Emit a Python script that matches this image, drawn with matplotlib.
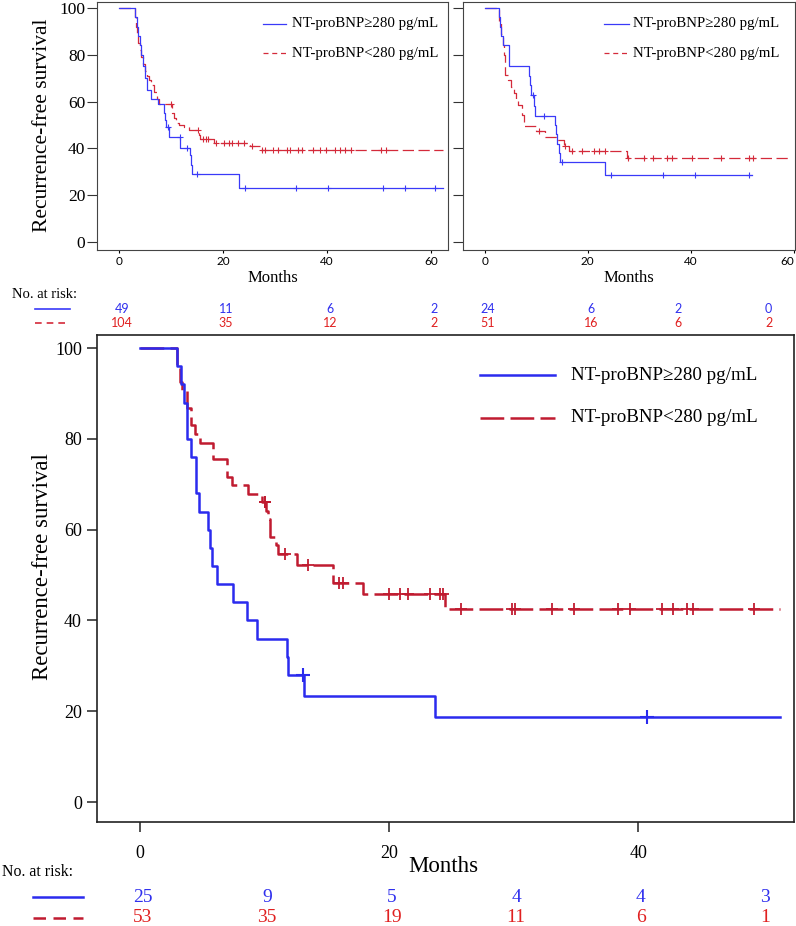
import numpy as np
import matplotlib
matplotlib.use("Agg")
import matplotlib.pyplot as plt
from matplotlib import transforms

# ---- data ----
# top-left panel
tl_blue_t = [0, 3.1, 3.4, 3.7, 4.0, 4.3, 4.7, 5.0, 5.5, 6.2, 7.5, 8.6, 8.8, 9.0, 9.7, 11.8, 13.6, 13.9, 14.1, 23.1]
tl_blue_s = [100, 96, 92, 88, 84, 80, 75, 70, 65, 61, 59, 55, 52, 49, 45, 40, 37, 33, 29, 23]
tl_blue_cens = [9.4, 11.7, 13.2, 15.1, 24.3, 34.0, 40.3, 50.8, 55.0, 60.8]
tl_blue_end = 62.3
tl_red_t = [0, 3.1, 3.3, 3.5, 3.7, 4.0, 4.3, 4.6, 5.0, 5.4, 5.8, 6.2, 6.8, 7.3, 7.8, 10.3, 10.6, 11.0,
            11.6, 12.5, 13.5, 15.4, 15.7, 18.3, 25.3, 27.2]
tl_red_s = [100, 96, 92, 88, 85, 82, 79, 76, 73, 71, 69, 67, 64, 61, 59, 55, 53, 51,
            50, 49, 48, 45.5, 44, 42.5, 41, 39.1]
tl_red_cens = [10.0, 15.3, 16.2, 16.8, 17.2, 18.6, 20.2, 21.1, 21.8, 22.9, 24.0, 25.7, 27.5, 28.2,
               29.7, 30.7, 32.3, 32.9, 34.5, 35.2, 37.4, 38.7, 39.9, 41.5, 42.5, 43.4, 44.7, 50.4, 51.4]
tl_red_end = 62.3

# top-right panel
tr_blue_t = [0, 2.8, 3.0, 3.2, 3.6, 4.8, 8.6, 8.8, 9.0, 9.55, 9.8, 13.6, 13.8, 14.1, 14.4, 14.6, 23.4]
tr_blue_s = [100, 96, 92, 88, 84, 75, 71, 67, 63, 58, 54, 50, 46, 42, 38, 34, 28.5]
tr_blue_cens = [9.45, 11.6, 15.0, 24.5, 34.5, 40.8, 51.3]
tr_blue_end = 51.9
tr_red_t = [0, 2.8, 3.1, 3.5, 3.7, 4.0, 4.6, 5.1, 5.7, 6.0, 6.4, 7.3, 7.7, 10.0, 11.8, 13.8, 15.4, 16.3, 27.6]
tr_red_s = [100, 94, 89, 84, 80, 71.4, 69.3, 66.4, 63.6, 60.8, 58.6, 54.3, 49.4, 47.5, 45, 43.4, 40.8, 39, 35.8]
tr_red_cens = [10.5, 15.6, 17.0, 18.8, 21.2, 22.1, 23.3, 27.9, 30.9, 32.7, 35.3, 36.4, 40.3, 45.9, 51.3, 52.0]
tr_red_end = 59.1

# bottom panel
b_blue_t = [0, 2.95, 3.3, 3.5, 3.75, 4.1, 4.5, 4.75, 5.5, 5.6, 5.75, 6.2, 7.5, 8.6, 9.4, 11.8, 11.9, 13.15, 23.7]
b_blue_s = [100, 96, 92, 88, 80, 76, 68, 64, 60, 56, 52, 48, 44, 40, 36, 32, 28, 23.3, 18.7]
b_blue_cens = [13.05, 40.7]
b_blue_end = 51.4
b_red_t = [0, 2.95, 3.2, 3.35, 3.75, 4.1, 4.4, 4.8, 5.85, 6.95, 7.35, 8.7, 9.8, 10.15, 10.3, 10.45,
           10.9, 11.05, 12.6, 15.5, 17.9, 24.5]
b_red_s = [100, 96.2, 92.5, 90.6, 86.8, 83.0, 81.1, 79.2, 75.5, 71.7, 69.8, 67.9, 66.0, 64.2, 62.3, 58.5,
           56.6, 54.7, 52.3, 48.2, 45.8, 42.6]
b_red_cens = [10.0, 10.05, 11.65, 13.5, 16.0, 16.3, 19.95, 20.9, 21.55, 23.3, 24.1, 24.3, 25.8, 29.85,
              30.1, 33.1, 34.85, 38.4, 39.3, 41.9, 42.8, 43.9, 44.4, 49.3]
b_red_end = 51.4

# numbers at risk
tl_risk_blue = [49, 11, 6, 2]
tl_risk_red = [104, 35, 12, 2]
tr_risk_blue = [24, 6, 2, 0]
tr_risk_red = [51, 16, 6, 2]
b_risk_blue = [25, 9, 5, 4, 4, 3]
b_risk_red = [53, 35, 19, 11, 6, 1]

legend_labels = ["NT-proBNP\u2265280 pg/mL", "NT-proBNP<280 pg/mL"]

# ---- style ----
SERIF = "Liberation Serif"
SANS = "Lato"
blue_top, red_top = "#3a3af8", "#d42a3a"
blue_bot, red_bot = "#2b2bee", "#c01b30"
risk_blue, risk_red = "#3030ee", "#e02020"

W, H = 796, 926
fig = plt.figure(figsize=(W / 100, H / 100), dpi=100)


def add_axes_px(x0, y0, x1, y1):
    return fig.add_axes([x0 / W, 1 - y1 / H, (x1 - x0) / W, (y1 - y0) / H])


def ftext(x, y, s, **kw):
    kw.setdefault("va", "center")
    fig.text(x / W, 1 - y / H, s, **kw)


def fline(x0, x1, y, **kw):
    fig.add_artist(plt.Line2D([x0 / W, x1 / W], [1 - y / H, 1 - y / H], **kw))


def draw_km(ax, t, s, cens, end, color, lw, ls, ms, mew):
    t = np.append(np.asarray(t, float), end)
    s = np.append(np.asarray(s, float), s[-1])
    ax.step(t, s, where="post", color=color, lw=lw, ls=ls)
    idx = np.searchsorted(t, cens, side="right") - 1
    ax.plot(cens, s[idx], ls="none", marker="+", ms=ms, mew=mew, color=color)


top_dash = (0, (9, 3.6))
bot_dash = (0, (9.5, 2.5))

# ---- top panels ----
ax1 = add_axes_px(97, 2, 448, 250)
ax2 = add_axes_px(463, 2, 795, 250)
for ax, (bt, bs, bc, be, rt, rs, rc, re) in [
    (ax1, (tl_blue_t, tl_blue_s, tl_blue_cens, tl_blue_end, tl_red_t, tl_red_s, tl_red_cens, tl_red_end)),
    (ax2, (tr_blue_t, tr_blue_s, tr_blue_cens, tr_blue_end, tr_red_t, tr_red_s, tr_red_cens, tr_red_end)),
]:
    draw_km(ax, rt, rs, rc, re, red_top, 0.9, top_dash, 5, 0.8)
    draw_km(ax, bt, bs, bc, be, blue_top, 0.9, "-", 5, 0.8)
    ax.set_ylim(-3.4, 102.5)
    ax.set_yticks([0, 20, 40, 60, 80, 100])
    ax.set_xticks([0, 20, 40, 60])
    ax.tick_params(axis="y", length=7, width=0.8, pad=1.5, labelsize=12.5, color="#333333")
    ax.tick_params(axis="x", length=2, width=0.8, pad=2, labelsize=8.5)
    for lab in ax.get_xticklabels():
        lab.set_fontfamily(SANS)
    for sp in ax.spines.values():
        sp.set_linewidth(0.8)
        sp.set_color("#444444")
    ax.set_xlabel("Months", fontsize=12, fontfamily=SERIF, va="center")
    ax.xaxis.set_label_coords(0.5, (250 - 278) / 248)

ax1.set_xlim(-4.2, 63.3)
for lab in ax1.get_yticklabels():
    lab.set_fontfamily(SERIF)
ax1.set_ylabel("Recurrence-free survival", fontsize=15.5, fontfamily=SERIF, va="center")
ax1.yaxis.set_label_coords((43 - 97) / 351, 0.502)

ax2.set_xlim(-4.2, 60.2)
ax2.set_yticklabels([])
ax2.get_xticklabels()[-1].set_ha("right")

# top legends
for lx0, lx1, tx in [(263, 286, 292), (604, 629, 633)]:
    fline(lx0, lx1, 24, color=blue_top, lw=0.9)
    fline(lx0, lx1, 53, color=red_top, lw=0.9, ls=(0, (4, 3)))
    ftext(tx, 24, legend_labels[0], fontsize=10.7, fontfamily=SERIF)
    ftext(tx, 53, legend_labels[1], fontsize=10.7, fontfamily=SERIF)

# top risk table
ftext(12, 295, "No. at risk:", fontsize=10.5, fontfamily=SERIF)
fline(35, 70, 309, color=blue_top, lw=1.2)
fline(35, 70, 323, color=red_top, lw=1.2, ls=(0, (4, 3)))
tl_pos = [0, 20, 40, 60]
tr_pos = [0, 20, 37, 54.5]
for ax, pos, rb, rr in [(ax1, tl_pos, tl_risk_blue, tl_risk_red), (ax2, tr_pos, tr_risk_blue, tr_risk_red)]:
    tr = transforms.blended_transform_factory(ax.transData, fig.transFigure)
    for p, vb, vr in zip(pos, rb, rr):
        ax.text(p + 0.6, 1 - 309 / H, str(vb), transform=tr, ha="center", va="center",
                fontsize=9, fontfamily=SANS, color=risk_blue)
        ax.text(p + 0.6, 1 - 323 / H, str(vr), transform=tr, ha="center", va="center",
                fontsize=9, fontfamily=SANS, color=risk_red)

# ---- bottom panel ----
ax3 = add_axes_px(97, 335, 794, 822)
draw_km(ax3, b_red_t, b_red_s, b_red_cens, b_red_end, red_bot, 1.8, bot_dash, 9, 1.3)
draw_km(ax3, b_blue_t, b_blue_s, b_blue_cens, b_blue_end, blue_bot, 1.8, "-", 10, 1.5)
ax3.set_xlim(-3.45, 52.5)
ax3.set_ylim(-4.4, 102.9)
ax3.set_yticks([0, 20, 40, 60, 80, 100])
ax3.set_xticks([0, 20, 40])
ax3.tick_params(length=7.2, width=1.1, labelsize=13, color="#222222")
ax3.tick_params(axis="y", pad=3.6)
ax3.tick_params(axis="x", pad=9)
for lab in ax3.get_xticklabels() + ax3.get_yticklabels():
    lab.set_fontfamily(SERIF)
for sp in ax3.spines.values():
    sp.set_linewidth(1.2)
    sp.set_color("#222222")
ax3.set_ylabel("Recurrence-free survival", fontsize=16.5, fontfamily=SERIF, va="center")
ax3.yaxis.set_label_coords((42 - 97) / 697, (822 - 567) / 487)
ax3.set_xlabel("Months", fontsize=16.5, fontfamily=SERIF, va="center")
ax3.xaxis.set_label_coords(0.497, (822 - 867) / 487)

# bottom legend
fline(480, 555, 375, color=blue_bot, lw=1.8)
fline(480, 555, 418, color=red_bot, lw=1.8, ls=bot_dash)
ftext(571, 375, legend_labels[0], fontsize=13.7, fontfamily=SERIF)
ftext(571, 418, legend_labels[1], fontsize=13.7, fontfamily=SERIF)

# bottom risk table
ftext(2, 872, "No. at risk:", fontsize=11.4, fontfamily=SERIF)
fline(33, 83, 897, color=blue_bot, lw=1.8)
fline(33, 83, 918, color=red_bot, lw=1.8, ls=(0, (5, 3)))
b_pos = [0, 10, 20, 30, 40, 50]
tr3 = transforms.blended_transform_factory(ax3.transData, fig.transFigure)
for p, vb, vr in zip(b_pos, b_risk_blue, b_risk_red):
    ax3.text(p + 0.2, 1 - 897 / H, str(vb), transform=tr3, ha="center", va="center",
             fontsize=14, fontfamily=SERIF, color=risk_blue)
    ax3.text(p + 0.2, 1 - 918 / H, str(vr), transform=tr3, ha="center", va="center",
             fontsize=14, fontfamily=SERIF, color=risk_red)

fig.savefig("out.png", dpi=100)
